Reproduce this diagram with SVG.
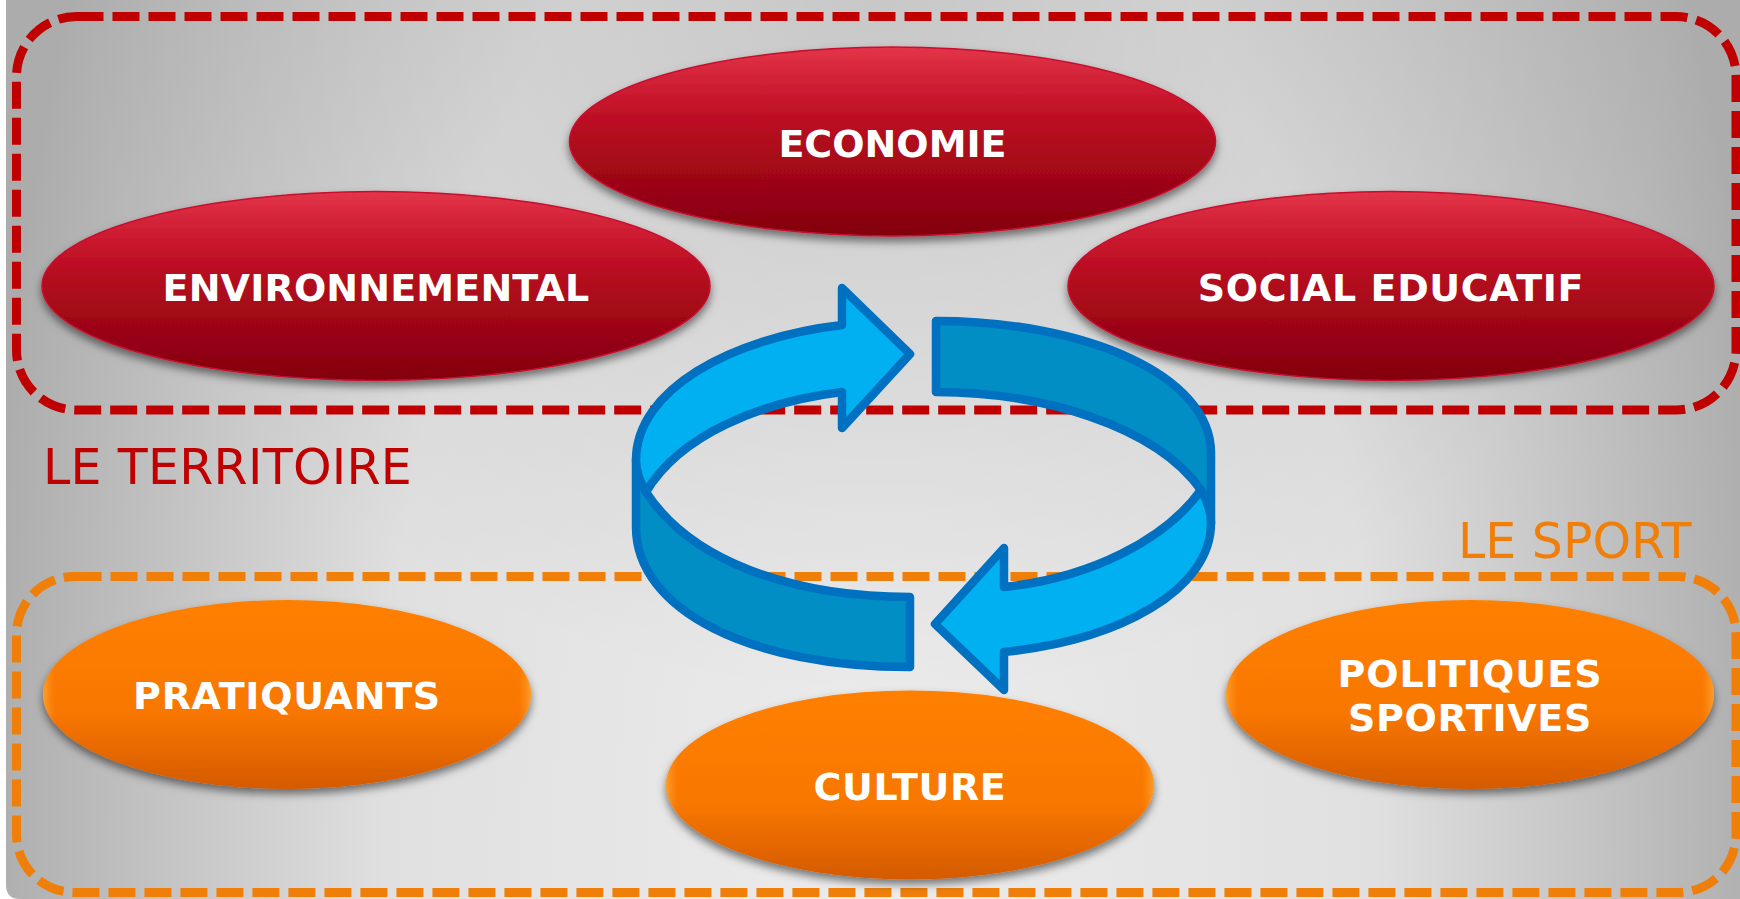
<svg xmlns="http://www.w3.org/2000/svg" width="1740" height="899" viewBox="0 0 1740 899">
<style>
.lbl{font-family:"DejaVu Sans","Liberation Sans",sans-serif;font-weight:700;font-size:38px;fill:#fff;text-anchor:middle}
.ttl{font-family:"DejaVu Sans","Liberation Sans",sans-serif;font-size:49px}
.zone{fill:none;stroke-width:9;stroke-dasharray:27 9}
.band{stroke:#0070c0;stroke-width:8.5;stroke-linejoin:round}
.red{fill:url(#redG);stroke:#c8102e;stroke-width:1.5;filter:url(#sh)}
.org{fill:url(#orgG);filter:url(#sh)}
.rim{fill:url(#rimG)}
</style>
<defs>
<radialGradient id="bg" gradientUnits="userSpaceOnUse" cx="0" cy="0" r="1" gradientTransform="translate(880 860) scale(900 2000)">
<stop offset="0" stop-color="#ececec"/><stop offset=".55" stop-color="#e0e0e0"/><stop offset="1" stop-color="#acacac"/>
</radialGradient>
<radialGradient id="topShade" gradientUnits="userSpaceOnUse" cx="0" cy="0" r="1" gradientTransform="translate(880 0) scale(800 700)">
<stop offset="0" stop-color="#000" stop-opacity=".12"/><stop offset="1" stop-color="#000" stop-opacity="0"/>
</radialGradient>
<linearGradient id="redG" x1="0" y1="0" x2="0" y2="1">
<stop offset="0" stop-color="#e33549"/><stop offset=".3" stop-color="#c5142a"/><stop offset=".5" stop-color="#b00a1c"/><stop offset="1" stop-color="#83000e"/>
</linearGradient>
<linearGradient id="orgG" x1="0" y1="0" x2="0" y2="1">
<stop offset="0" stop-color="#ff8000"/><stop offset=".6" stop-color="#f87700"/><stop offset="1" stop-color="#d45a00"/>
</linearGradient>
<linearGradient id="rimG" x1="0" y1="0" x2="1" y2="0">
<stop offset="0" stop-color="#ffc050" stop-opacity=".55"/><stop offset=".025" stop-color="#ffa030" stop-opacity="0"/>
<stop offset=".975" stop-color="#ffa030" stop-opacity="0"/><stop offset="1" stop-color="#ffc050" stop-opacity=".55"/>
</linearGradient>
<filter id="sh" x="-5%" y="-10%" width="110%" height="125%">
<feDropShadow dx="0" dy="5" stdDeviation="4" flood-color="#000" flood-opacity=".5"/>
</filter>
</defs>
<path id="background" d="M6 0H1740V899H20Q6 899 6 885Z" fill="url(#bg)"/>
<path id="background-shade" d="M6 0H1740V899H20Q6 899 6 885Z" fill="url(#topShade)"/>
<g id="zone-territoire">
<rect class="zone" x="16.500" y="16.500" width="1719.500" height="393.500" rx="60" stroke="#c00000"/>
<text class="ttl" x="43" y="484" fill="#c00000" letter-spacing=".3">LE TERRITOIRE</text>
</g>
<g id="zone-sport">
<rect class="zone" x="16.500" y="576.500" width="1719.500" height="316" rx="58" stroke="#f07f09"/>
<text class="ttl" x="1458" y="558" fill="#f07f09">LE SPORT</text>
</g>
<g id="node-economie">
<ellipse class="red" cx="892.500" cy="141.500" rx="323" ry="94.500"/>
<text class="lbl" x="892.500" y="157">ECONOMIE</text>
</g>
<g id="node-environnemental">
<ellipse class="red" cx="376" cy="286" rx="334" ry="94.500"/>
<text class="lbl" x="376" y="301" letter-spacing=".15">ENVIRONNEMENTAL</text>
</g>
<g id="node-social">
<ellipse class="red" cx="1391" cy="286" rx="323" ry="94.500"/>
<text class="lbl" x="1391" y="301" letter-spacing=".6">SOCIAL EDUCATIF</text>
</g>
<g id="node-pratiquants">
<ellipse class="org" cx="287" cy="694.500" rx="244" ry="94.500"/>
<ellipse class="rim" cx="287" cy="694.500" rx="244" ry="94.500"/>
<text class="lbl" x="287" y="709" letter-spacing=".7">PRATIQUANTS</text>
</g>
<g id="node-culture">
<ellipse class="org" cx="910" cy="785" rx="244" ry="94.500"/>
<ellipse class="rim" cx="910" cy="785" rx="244" ry="94.500"/>
<text class="lbl" x="910" y="800" letter-spacing=".6">CULTURE</text>
</g>
<g id="node-politiques">
<ellipse class="org" cx="1470" cy="694.500" rx="244" ry="94.500"/>
<ellipse class="rim" cx="1470" cy="694.500" rx="244" ry="94.500"/>
<text class="lbl" x="1470" y="687" letter-spacing="1">POLITIQUES</text>
<text class="lbl" x="1470" y="731" letter-spacing=".7">SPORTIVES</text>
</g>
<g id="connectors">
<path class="band" fill="#008ec4" d="M646 492C690 560 790 597 910 597V667C750 667 636 610 636 527V460Z"/>
<path class="band" fill="#00b0f0" d="M646 492C680 435 760 402 842 392V428L910 354L842 288V325C730 338 636 390 636 460C636 472 640 482 646 492Z"/>
<path class="band" fill="#008ec4" d="M936 321C1085 321 1211 375 1211 453V523L1201 490C1155 425 1040 392 936 392Z"/>
<path class="band" fill="#00b0f0" d="M1201 490C1165 540 1090 578 1004 587V548L935 624L1004 690V652C1120 640 1211 590 1211 523C1211 510 1207 500 1201 490Z"/>
</g>
</svg>
